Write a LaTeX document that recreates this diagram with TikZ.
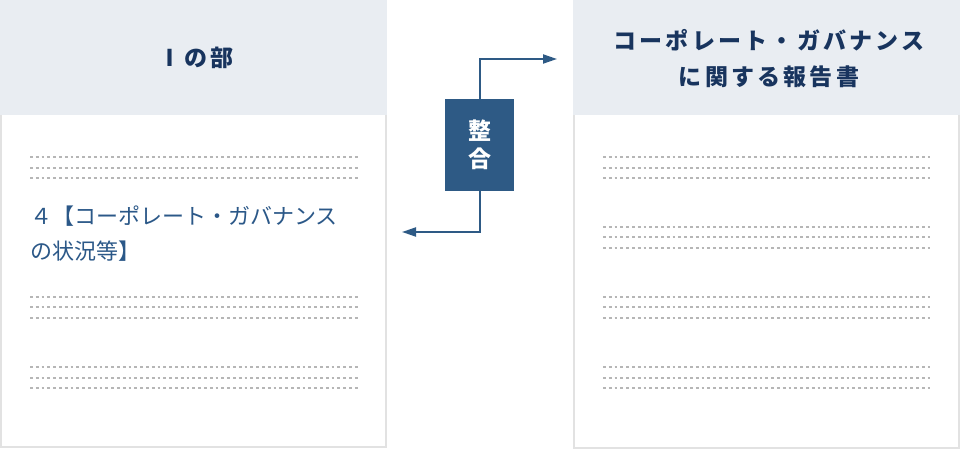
\documentclass[tikz,border=0pt]{standalone}
\usepackage{fontspec}
\newfontfamily\jpfont{Noto Sans CJK JP}
\newfontfamily\jphead[LetterSpace=14]{Noto Sans CJK JP}
\usetikzlibrary{arrows.meta}

\begin{document}
\begin{tikzpicture}[x=1pt, y=-1pt, >={Triangle[length=14pt,width=9pt]},
		panel/.style={draw=edgegray, line width=1.5pt, fill=white},
		headbar/.style={fill=headgray},
		dotrow/.style={draw=dotgray, line width=2.8pt, dash pattern=on 2.8pt off 3pt},
		headtext/.style={text=navy, align=center, inner sep=0pt, font=\jphead\bfseries\fontsize{23}{36}\selectfont},
		bodytext/.style={text=textblue, align=left, inner sep=0pt, font=\jpfont\fontsize{22}{35}\selectfont},
		link/.style={draw=boxblue, line width=2pt, ->}]
			\definecolor{headgray}{RGB}{233, 237, 242}
			\definecolor{edgegray}{RGB}{226, 226, 226}
			\definecolor{dotgray}{RGB}{182, 182, 182}
			\definecolor{navy}{RGB}{24, 52, 94}
			\definecolor{textblue}{RGB}{43, 88, 136}
			\definecolor{boxblue}{RGB}{46, 90, 133}
			
			\useasboundingbox (0,0) rectangle (960,449);
			
			% 左の枠（Ⅰの部）
			\draw[panel] (1,1) rectangle (386,447);
			\fill[headbar] (0,0) rectangle (387,115);
			\node[headtext] (leftHead) at (196,58) {Ⅰの部};
			\node[bodytext, anchor=west] (leftItem) at (30,234) {４【コーポレート・ガバナンス\\の状況等】};
			\foreach \y in {157,168,178,297,307,318,367,378,388}
				\draw[dotrow] (30,\y) -- (358,\y);
			
			% 右の枠（報告書）
			\draw[panel] (574,1) rectangle (959,448);
			\fill[headbar] (573,0) rectangle (960,115);
			\node[headtext] (rightHead) at (769,59) {コーポレート・ガバナンス\\に関する報告書};
			\foreach \y in {157,168,178,227,237,248,297,307,318,367,378,388}
				\draw[dotrow] (603,\y) -- (930,\y);
			
			% 整合の箱と矢印
			\node[fill=boxblue, text=white, minimum width=69pt, minimum height=92pt, align=center,
				font=\jpfont\bfseries\fontsize{23}{28}\selectfont] (seiGo) at (479.5,145) {整\\合};
			\coordinate (toRight) at (557,59);
			\coordinate (toLeft) at (402,232);
			\draw[link] (seiGo.north) |- (toRight);
			\draw[link] (seiGo.south) |- (toLeft);
		\end{tikzpicture}
\end{document}
